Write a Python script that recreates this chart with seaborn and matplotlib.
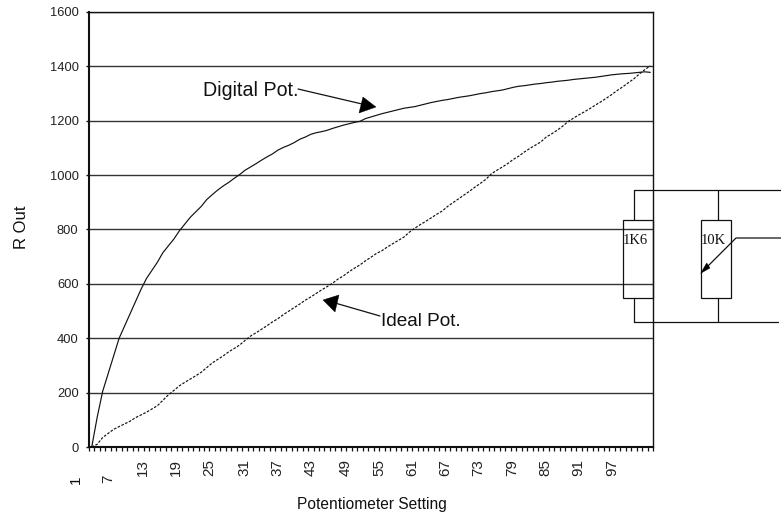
import numpy as np
import pandas as pd
import seaborn as sns
import matplotlib
matplotlib.use("Agg")
import matplotlib.pyplot as plt
from matplotlib.lines import Line2D
from matplotlib.patches import Polygon, Rectangle
from matplotlib.transforms import Affine2D

digital_pot = [0, 110, 205, 270, 335, 400, 445, 490, 535, 580, 620, 650, 680, 715, 740, 765, 795, 820, 845, 865,
               885, 910, 928, 945, 960, 973, 988, 1002, 1018, 1030, 1042, 1055, 1067, 1078, 1092, 1102, 1110, 1120,
               1132, 1140, 1150, 1156, 1160, 1165, 1172, 1178, 1184, 1189, 1194, 1198, 1208, 1214, 1220, 1226, 1231,
               1236, 1241, 1246, 1249, 1252, 1257, 1262, 1267, 1271, 1275, 1278, 1282, 1286, 1289, 1292, 1296, 1300,
               1303, 1307, 1310, 1313, 1318, 1323, 1327, 1329, 1332, 1335, 1337, 1340, 1342, 1345, 1347, 1349, 1352,
               1354, 1356, 1358, 1360, 1363, 1366, 1369, 1371, 1373, 1374, 1376, 1378, 1380, 1378]
ideal_pot = [0, 10, 35, 50, 65, 75, 85, 95, 108, 118, 128, 140, 152, 172, 192, 208, 225, 238, 250, 262,
             275, 292, 309, 322, 335, 350, 362, 375, 392, 408, 420, 433, 446, 460, 472, 487, 500, 513,
             526, 540, 552, 565, 578, 590, 603, 618, 630, 645, 658, 670, 685, 698, 712, 722, 736,
             748, 760, 772, 790, 805, 818, 830, 843, 856, 868, 885, 899, 913, 927, 941, 956, 970,
             985, 1005, 1018, 1030, 1043, 1058, 1070, 1085, 1098, 1110, 1122, 1140, 1152, 1165, 1180, 1197, 1210,
             1222, 1233, 1245, 1258, 1270, 1283, 1297, 1312, 1325, 1340, 1354, 1372, 1388, 1402]
settings = list(range(1, len(digital_pot) + 1))
x_tick_labels = ["1", "7", "13", "19", "25", "31", "37", "43", "49", "55", "61", "67", "73", "79", "85", "91", "97"]
y_ticks = [0, 200, 400, 600, 800, 1000, 1200, 1400, 1600]

W, H = 781, 516
sns.set_theme(style="white")
plt.rcParams["font.family"] = ["Liberation Sans", "DejaVu Sans"]
fig = plt.figure(figsize=(W / 100, H / 100), dpi=100)
L, R, T, B = 89, 653, 12, 447
ax = fig.add_axes([L / W, 1 - B / H, (R - L) / W, (B - T) / H])

df = pd.DataFrame({
    "setting": settings * 2,
    "value": digital_pot + ideal_pot,
    "series": ["Digital Pot."] * len(settings) + ["Ideal Pot."] * len(settings),
})
sns.lineplot(data=df, x="setting", y="value", hue="series", style="series",
             palette={"Digital Pot.": "#111111", "Ideal Pot.": "#111111"},
             dashes={"Digital Pot.": "", "Ideal Pot.": (2.2, 1.3)},
             linewidth=0.85, legend=False, ax=ax, zorder=3)

ax.set_xlim(0.5, len(settings) + 0.5)
ax.set_ylim(0, 1600)
ax.set_yticks(y_ticks)
ax.grid(axis="y", color="#333333", linewidth=1.0)
ax.grid(axis="x", visible=False)
ax.set_axisbelow(True)
ax.tick_params(axis="y", length=2.5, width=1, color="#111111", labelsize=9.3, labelcolor="#222222", pad=5, left=True)

# tick labels sit at their own spacing, offset from the category marks
px_to_x = lambda px: 0.5 + (px - L) / ((R - L) / len(settings))
label_px = [76, 108, 143, 176, 209, 244, 277, 311, 346, 379, 412, 445, 478, 512, 545, 578, 612]
ax.set_xticks([px_to_x(p) for p in label_px[1:]])
ax.set_xticklabels(x_tick_labels[1:], rotation=90, fontsize=11, color="#222222")
ax.set_xticks(np.arange(0.5, len(settings) + 1), minor=True)
ax.tick_params(axis="x", which="major", length=0, pad=8.6, bottom=True)
ax.tick_params(axis="x", which="minor", length=3, width=0.9, color="#111111", bottom=True)
ax.xaxis.get_major_ticks()[0].set_pad(20)
ax.set_xlabel("")
ax.set_ylabel("")

for side, lw in {"left": 1.5, "bottom": 1.5, "top": 1.0, "right": 1.0}.items():
    ax.spines[side].set_visible(True)
    ax.spines[side].set_color("#111111")
    ax.spines[side].set_linewidth(lw)

px = Affine2D().scale(1 / W, -1 / H).translate(0, 1) + fig.transFigure

def wire(xs, ys, lw=0.9):
    fig.add_artist(Line2D(xs, ys, color="#111111", linewidth=lw, transform=px, zorder=5))

def head(pts):
    fig.add_artist(Polygon(pts, closed=True, facecolor="black", edgecolor="black", linewidth=0.3, transform=px, zorder=5))

def label(x, y, s, size, **kw):
    fig.text(x, y, s, fontsize=size, transform=px, color="#111111", **kw)

label(76, 476, x_tick_labels[0], 11, rotation=90, ha="center", va="top")
label(372, 505, "Potentiometer Setting", 11.2, ha="center", va="center")
label(21, 227, "R Out", 12, rotation=90, ha="center", va="center")

label(203, 91, "Digital Pot.", 14.1, ha="left", va="center")
wire([298, 362], [89, 104], 0.9)
head([(363, 97), (359, 113), (376, 107)])
label(381, 322, "Ideal Pot.", 13.7, ha="left", va="center")
wire([380, 335], [316, 303], 0.9)
head([(323, 300), (339, 295), (335, 312)])

# resistor network
wire([634, 781], [190, 190])
wire([634, 778], [322, 322])
wire([634, 634], [190, 220])
wire([634, 634], [298, 322])
wire([718, 718], [190, 220])
wire([718, 718], [298, 322])
for x0, w in [(622.5, 30), (700.5, 30)]:
    fig.add_artist(Rectangle((x0, 220), w, 78, fill=False, edgecolor="#111111", linewidth=0.9, transform=px, zorder=5))
wire([781, 736, 706], [238, 238, 268])
head([(700.7, 273.3), (706.7, 263), (710, 268)])
fig.text(635, 240, "1K6", fontsize=10.5, family="Liberation Serif", ha="center", va="center", transform=px, color="#111111")
fig.text(713, 240, "10K", fontsize=10.5, family="Liberation Serif", ha="center", va="center", transform=px, color="#111111")

fig.savefig("out.png", dpi=100, facecolor="white")
